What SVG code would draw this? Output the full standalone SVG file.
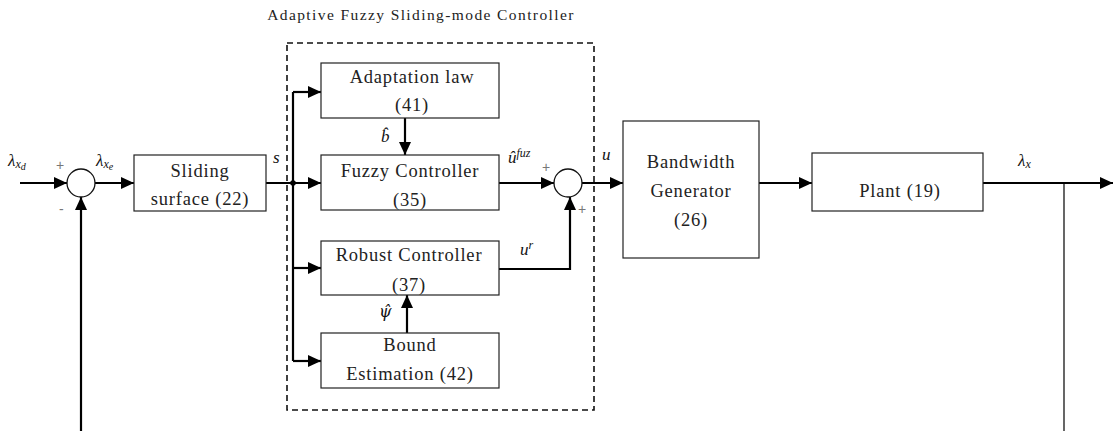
<svg xmlns="http://www.w3.org/2000/svg" width="1113" height="431" viewBox="0 0 1113 431">
<style>
.box{fill:#fff;stroke:#222;stroke-width:1.2}
.sum{fill:#fff;stroke:#111;stroke-width:1.3}
.w{stroke:#000;stroke-width:2.2;fill:none}
.thin{stroke:#000;stroke-width:1.2;fill:none}
.t{font-family:"Liberation Serif","DejaVu Serif",serif;font-size:18.5px;fill:#222;text-anchor:middle;letter-spacing:0.8px}
.m{font-family:"Liberation Serif","DejaVu Serif",serif;font-style:italic;font-size:17px;fill:#111}
.pm{font-family:"Liberation Sans",sans-serif;font-size:14px;fill:#777}
.title{font-family:"Liberation Serif","DejaVu Serif",serif;font-size:15.5px;fill:#222;text-anchor:middle;letter-spacing:1.4px}
</style>
<defs>
<marker id="ah" markerUnits="userSpaceOnUse" markerWidth="14" markerHeight="12" refX="13" refY="6" orient="auto">
<path d="M0,0 L13,6 L0,12 Z" fill="#000"/>
</marker>
</defs>
<rect width="1113" height="431" fill="#fff"/>
<g id="controller-boundary">
<rect x="287" y="43" width="307" height="367" fill="none" stroke="#111" stroke-width="1.6" stroke-dasharray="6,4"/>
<text class="title" x="421" y="20">Adaptive Fuzzy Sliding-mode Controller</text>
</g>
<g id="connectors">
<line class="w" x1="20" y1="183" x2="67" y2="183" marker-end="url(#ah)"/>
<line class="w" x1="95" y1="183" x2="134" y2="183" marker-end="url(#ah)"/>
<line class="w" x1="81" y1="431" x2="81" y2="197" marker-end="url(#ah)"/>
<line class="w" x1="266" y1="183" x2="321" y2="183" marker-end="url(#ah)"/>
<circle cx="293" cy="183" r="2.8" fill="#000"/>
<line class="w" x1="293" y1="92" x2="293" y2="361"/>
<polyline class="w" points="293,92 321,92" marker-end="url(#ah)"/>
<polyline class="w" points="293,268 321,268" marker-end="url(#ah)"/>
<polyline class="w" points="293,361 321,361" marker-end="url(#ah)"/>
<line class="w" x1="405" y1="118" x2="405" y2="155" marker-end="url(#ah)"/>
<line class="w" x1="407" y1="333" x2="407" y2="295" marker-end="url(#ah)"/>
<line class="w" x1="499" y1="183" x2="554" y2="183" marker-end="url(#ah)"/>
<polyline class="w" points="499,269 570,269 570,197" marker-end="url(#ah)"/>
<line class="w" x1="582" y1="183" x2="623" y2="183" marker-end="url(#ah)"/>
<line class="w" x1="759" y1="183" x2="812" y2="183" marker-end="url(#ah)"/>
<line class="w" x1="983" y1="183" x2="1113" y2="183" marker-end="url(#ah)"/>
<line class="thin" x1="1064" y1="183" x2="1064" y2="431"/>
</g>
<g id="sum1">
<circle class="sum" cx="81" cy="183" r="14"/>
<text class="pm" x="56" y="170">+</text>
<text class="pm" x="59" y="214">-</text>
</g>
<g id="sliding-surface">
<rect class="box" x="134" y="155" width="132" height="56"/>
<text class="t" x="200" y="177">Sliding</text>
<text class="t" x="200" y="205">surface (22)</text>
</g>
<g id="adaptation-law">
<rect class="box" x="321" y="63" width="178" height="55"/>
<text class="t" x="412" y="83">Adaptation law</text>
<text class="t" x="412" y="111">(41)</text>
</g>
<g id="fuzzy-controller">
<rect class="box" x="321" y="155" width="178" height="55"/>
<text class="t" x="410" y="177">Fuzzy Controller</text>
<text class="t" x="410" y="206">(35)</text>
</g>
<g id="robust-controller">
<rect class="box" x="321" y="241" width="178" height="54"/>
<text class="t" x="409" y="261">Robust Controller</text>
<text class="t" x="409" y="291">(37)</text>
</g>
<g id="bound-estimation">
<rect class="box" x="321" y="333" width="178" height="55"/>
<text class="t" x="410" y="351">Bound</text>
<text class="t" x="410" y="380">Estimation (42)</text>
</g>
<g id="sum2">
<circle class="sum" cx="568" cy="183" r="14"/>
<text class="pm" x="542" y="172">+</text>
<text class="pm" x="578" y="214">+</text>
</g>
<g id="bandwidth-generator">
<rect class="box" x="623" y="121" width="136" height="137"/>
<text class="t" x="691" y="168">Bandwidth</text>
<text class="t" x="691" y="197">Generator</text>
<text class="t" x="691" y="226">(26)</text>
</g>
<g id="plant">
<rect class="box" x="812" y="153" width="171" height="58"/>
<text class="t" x="900" y="197">Plant (19)</text>
</g>
<g id="labels">
<text class="m" x="8" y="166">λ<tspan font-size="12" dy="2">x</tspan><tspan font-size="10" dy="2">d</tspan></text>
<text class="m" x="96" y="166">λ<tspan font-size="12" dy="2">x</tspan><tspan font-size="10" dy="2">e</tspan></text>
<text class="m" x="273" y="163">s</text>
<text class="m" x="381" y="142">b&#770;</text>
<text class="m" x="508" y="163">û<tspan font-size="12" dy="-6">fuz</tspan></text>
<text class="m" x="602" y="160">u</text>
<text class="m" x="520" y="255">u<tspan font-size="12" dy="-6">r</tspan></text>
<text class="m" x="379" y="317" style="font-family:'DejaVu Serif',serif;font-size:16px">ψ&#770;</text>
<text class="m" x="1018" y="166">λ<tspan font-size="12" dy="2">x</tspan></text>
</g>
</svg>
